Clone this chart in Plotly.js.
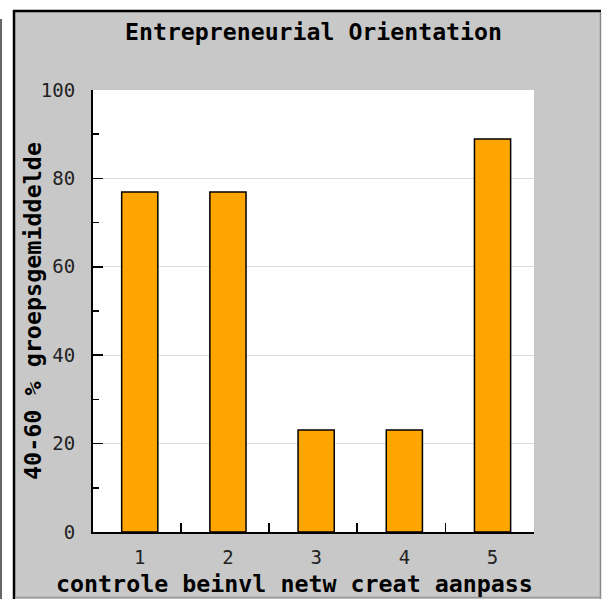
<!DOCTYPE html>
<html>
<head>
<meta charset="utf-8">
<script src="https://cdn.plot.ly/plotly-3.0.1.min.js"></script>
<style>html,body{margin:0;padding:0;background:#fff;}#chart{width:602px;height:599px;}</style>
</head>
<body>
<div id="chart"></div>
<script>
var categories = ['1', '2', '3', '4', '5'];
var values = [76.9, 76.9, 23.1, 23.1, 88.9];
var yTickVals = [0, 20, 40, 60, 80, 100];
var chartTitle = 'Entrepreneurial Orientation';
var xLabel = 'controle beinvl netw creat aanpass';
var yLabel = '40-60 % groepsgemiddelde';

var xPos = categories.map(function (c, i) { return i + 1; });
var boundaryTicks = categories.map(function (c, i) { return i + 1.465; });
var xRange = [0.47, 5.47];

var mono = 'DejaVu Sans Mono, monospace';

var data = [
  {
    type: 'bar',
    x: xPos,
    y: values,
    width: 0.41,
    marker: { color: '#FFA500', line: { color: '#000', width: 1.5 } },
    hoverinfo: 'skip',
    showlegend: false
  },
  {
    type: 'scatter',
    x: [],
    y: [],
    xaxis: 'x2',
    yaxis: 'y',
    showlegend: false,
    hoverinfo: 'skip'
  }
];

var layout = {
  width: 602,
  height: 599,
  margin: { l: 93, r: 68, t: 90, b: 67 },
  paper_bgcolor: '#ffffff',
  plot_bgcolor: '#ffffff',
  showlegend: false,
  title: {
    text: chartTitle,
    x: 0.5, xref: 'paper', xanchor: 'center',
    y: 1 - 32 / 599, yref: 'container', yanchor: 'middle',
    font: { family: mono, size: 23.2, color: '#000', weight: 'bold' }
  },
  xaxis: {
    range: xRange,
    tickvals: xPos,
    ticktext: categories,
    ticks: '',
    showgrid: false,
    zeroline: false,
    showline: true,
    linecolor: '#000',
    linewidth: 2,
    ticklabelstandoff: 7,
    tickfont: { family: mono, size: 19, color: '#222' },
    fixedrange: true
  },
  xaxis2: {
    overlaying: 'x',
    anchor: 'y',
    side: 'bottom',
    range: xRange,
    tickvals: boundaryTicks,
    showticklabels: false,
    ticks: 'inside',
    ticklen: 9,
    tickwidth: 1.5,
    tickcolor: '#000',
    showgrid: false,
    zeroline: false,
    showline: false,
    fixedrange: true
  },
  yaxis: {
    range: [0, 100],
    tickvals: yTickVals,
    ticks: 'inside',
    ticklen: 10,
    tickwidth: 1.5,
    tickcolor: '#000',
    minor: { dtick: 10, ticks: 'inside', ticklen: 6, tickwidth: 1.5, tickcolor: '#000', showgrid: false },
    showgrid: true,
    gridcolor: '#dcdcdc',
    gridwidth: 1,
    zeroline: false,
    showline: true,
    linecolor: '#000',
    linewidth: 2,
    ticklabelstandoff: 12,
    tickfont: { family: mono, size: 19, color: '#222' },
    fixedrange: true
  },
  annotations: [
    {
      text: xLabel,
      xref: 'paper', yref: 'paper',
      x: (294 - 93) / 441, y: (532 - 583) / 442,
      xanchor: 'center', yanchor: 'middle',
      showarrow: false,
      font: { family: mono, size: 23.3, color: '#000', weight: 'bold' }
    },
    {
      text: yLabel,
      xref: 'paper', yref: 'paper',
      x: (33 - 93) / 441, y: 0.5,
      xanchor: 'center', yanchor: 'middle',
      textangle: -90,
      showarrow: false,
      font: { family: mono, size: 23.4, color: '#000', weight: 'bold' }
    }
  ],
  shapes: [
    { type: 'rect', layer: 'below', xref: 'paper', yref: 'paper',
      x0: (13 - 93) / 441, x1: (601 - 93) / 441, y0: (532 - 599) / 442, y1: (532 - 10) / 442,
      fillcolor: '#c8c8c8', line: { width: 0 } },
    { type: 'rect', layer: 'below', xref: 'x domain', yref: 'y domain',
      x0: 0, x1: 1, y0: 0, y1: 1, fillcolor: '#ffffff', line: { width: 0 } },
    { type: 'rect', layer: 'below', xref: 'paper', yref: 'paper',
      x0: (0 - 93) / 441, x1: (2 - 93) / 441, y0: (532 - 599) / 442, y1: (532 - 19) / 442,
      fillcolor: '#666666', line: { width: 0 } },
    { type: 'line', layer: 'below', xref: 'paper', yref: 'paper',
      x0: (14 - 93) / 441, x1: (14 - 93) / 441, y0: (532 - 599) / 442, y1: (532 - 10) / 442,
      line: { color: '#000', width: 2.5 } },
    { type: 'line', layer: 'below', xref: 'paper', yref: 'paper',
      x0: (13 - 93) / 441, x1: (601 - 93) / 441, y0: (532 - 11) / 442, y1: (532 - 11) / 442,
      line: { color: '#000', width: 2.5 } },
    { type: 'line', layer: 'below', xref: 'paper', yref: 'paper',
      x0: (600.5 - 93) / 441, x1: (600.5 - 93) / 441, y0: (532 - 599) / 442, y1: (532 - 12) / 442,
      line: { color: '#888888', width: 1.5 } },
    { type: 'line', layer: 'below', xref: 'paper', yref: 'paper',
      x0: (15 - 93) / 441, x1: (601 - 93) / 441, y0: (532 - 597.5) / 442, y1: (532 - 597.5) / 442,
      line: { color: '#999999', width: 1.5 } }
  ]
};

Plotly.newPlot('chart', data, layout, { displayModeBar: false, staticPlot: true });
</script>
</body>
</html>
